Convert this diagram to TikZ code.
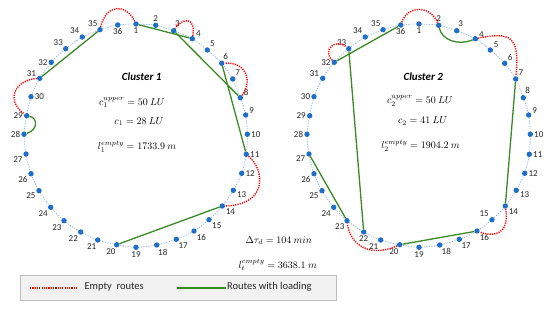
\documentclass[tikz,border=0pt]{standalone}
\usepackage{fontspec}
\setmainfont{Carlito}
\usepackage{amsmath}
\usepackage{xcolor}
\usetikzlibrary{calc,backgrounds}
\definecolor{dotblue}{HTML}{1F6FC6}
\definecolor{ringblue}{HTML}{8EB4E3}
\definecolor{emptyred}{HTML}{FF0000}
\definecolor{loadgreen}{HTML}{3B8A25}
\definecolor{numgray}{HTML}{262626}
\definecolor{legendfill}{HTML}{F2F2F2}
\definecolor{legenddraw}{HTML}{BFBFBF}

\begin{document}
\begin{tikzpicture}[x=1pt,y=-1pt,
  stop/.style={circle,fill=dotblue,inner sep=0pt,minimum size=5.4pt},
  numlbl/.style={text=numgray,font=\fontsize{9}{9}\selectfont,inner sep=0.8pt},
  ring/.style={ringblue,line width=0.7pt,dash pattern=on 1.3pt off 1.3pt},
  emptyroute/.style={emptyred,line width=1.4pt,dash pattern=on 1.2pt off 1.1pt},
  loadroute/.style={loadgreen,line width=1.3pt},
  mathtxt/.style={font=\fontsize{10}{12}\selectfont}]
  \useasboundingbox (0,0) rectangle (550,309);

  % stop positions of one cluster
  \foreach \i/\x/\y in {1/136/24, 2/155.7/25.3, 3/173.7/30.7, 4/192.3/38.7, 5/207.3/50,
      6/221.7/63.3, 7/232.7/79, 8/240.3/97.7, 9/245.7/115, 10/247.3/134.3, 11/246.3/154.3,
      12/241.7/173.3, 13/233.3/190.3, 14/222.3/206, 15/209/219.7, 16/194/231, 17/176.3/239.3,
      18/156.7/245, 19/136/247.3, 20/116.7/244.7, 21/97.7/240, 22/80.7/232, 23/64/220.7,
      24/50.7/207.3, 25/39/190.7, 26/31/173.7, 27/26/154, 28/24/134.3, 29/26.7/115.7,
      30/31/96.7, 31/39.7/78.3, 32/51.3/62.3, 33/65.7/48.7, 34/82.3/37, 35/100/29.7, 36/117.7/25}
    \coordinate (p\i) at (\x,\y);

  % Cluster 1
  \foreach \i/\a in {1/-90, 2/90, 3/80, 4/20, 5/50, 6/75, 7/55, 8/25, 9/20, 10/0, 11/0, 12/0,
      13/-10, 14/-30, 15/-40, 16/-50, 17/-65, 18/-80, 19/-90, 20/-95, 21/-100, 22/-130,
      23/-120, 24/-135, 25/-150, 26/-150, 27/-150, 28/180, 29/180, 30/0, 31/160, 32/180,
      33/130, 34/135, 35/125, 36/-90}
    \node[stop,label={[numlbl]\a:\i}] (a\i) at (p\i) {};

  % Cluster 2
  \foreach \i/\a in {1/-90, 2/90, 3/75, 4/10, 5/30, 6/45, 7/50, 8/70, 9/20, 10/0, 11/0, 12/0,
      13/-10, 14/-30, 15/140, 16/-50, 17/-65, 18/-70, 19/-90, 20/-95, 21/-120, 22/-90,
      23/-125, 24/-135, 25/-150, 26/-150, 27/-160, 28/180, 29/180, 30/180, 31/165, 32/180,
      33/120, 34/135, 35/125, 36/-90}
    \node[stop,label={[numlbl]\a:\i}] (b\i) at ($(p\i)+(283,0)$) {};

  \begin{scope}[on background layer]
    \fill[white] (0,0) rectangle (550,309);
    \draw[ring] plot[smooth cycle,samples at={1,...,36},variable=\k] (a\k.center);
    \draw[ring] plot[smooth cycle,samples at={1,...,36},variable=\k] (b\k.center);
  \end{scope}

  % routes, cluster 1
  \draw[emptyroute] (a35) .. controls (106,4) and (126,3) .. (a1);
  \draw[loadroute] (a1) -- (a4);
  \draw[emptyroute] (a4) .. controls (196,16) and (182,18) .. (a3);
  \draw[loadroute] (a3) -- (a8);
  \draw[emptyroute] (a8) .. controls (252,82) and (248,62) .. (a6);
  \draw[loadroute] (a6) -- (a11);
  \draw[emptyroute] (a11) .. controls (265,170) and (268,205) .. (a14);
  \draw[loadroute] (a14) -- (a20);
  \draw[loadroute] (a35) -- (a31);
  \draw[emptyroute] (a31) .. controls (15,80) and (5,100) .. (a29);
  \draw[loadroute] (a29) .. controls (38,118) and (38,130) .. (a28);

  % routes, cluster 2
  \draw[emptyroute] (b36) .. controls (408,5) and (430,5) .. (b2);
  \draw[loadroute] (b2) .. controls (442,40) and (458,46) .. (b4);
  \draw[emptyroute] (b4) .. controls (510,32) and (520,35) .. (b7);
  \draw[loadroute] (b7) -- (b14);
  \draw[emptyroute] (b14) .. controls (510,238) and (490,236) .. (b16);
  \draw[loadroute] (b16) -- (b20);
  \draw[emptyroute] (b20) .. controls (370,258) and (350,245) .. (b23);
  \draw[loadroute] (b23) -- (b27);
  \draw[loadroute] (b36) -- (b32);
  \draw[emptyroute] (b32) .. controls (322,50) and (335,38) .. (b33);
  \draw[loadroute] (b33) -- (b22);

  % cluster figures
  \node[font=\bfseries\itshape\fontsize{11}{13}\selectfont] (title1) at (141.7,76.7) {Cluster 1};
  \node[mathtxt] (cap1) at (132,102.7) {$c_1^{upper}=50\ LU$};
  \node[mathtxt] (load1) at (139,121.7) {$c_1=28\ LU$};
  \node[mathtxt] (len1) at (137,146.7) {$l_1^{empty}=1733.9\ m$};
  \node[font=\bfseries\itshape\fontsize{11}{13}\selectfont] (title2) at (423.3,77) {Cluster 2};
  \node[mathtxt] (cap2) at (420,101) {$c_2^{upper}=50\ LU$};
  \node[mathtxt] (load2) at (422.7,121) {$c_2=41\ LU$};
  \node[mathtxt] (len2) at (420.5,145.7) {$l_2^{empty}=1904.2\ m$};
  \node[mathtxt] (dtau) at (278.7,240.7) {$\Delta\tau_d=104\ min$};
  \node[mathtxt] (lent) at (277.7,265) {$l_t^{empty}=3638.1\ m$};

  % legend
  \node[draw=legenddraw,fill=legendfill,line width=0.8pt,minimum width=316.7pt,minimum height=25pt,inner sep=0pt] (legend) at (178.3,287.5) {};
  \coordinate (redA) at (30,288);
  \coordinate (redB) at (78,288);
  \draw[emptyroute,line width=1.6pt] (redA) -- (redB);
  \node[anchor=west,font=\fontsize{10.5}{12}\selectfont,text=numgray] (lgempty) at (81,287.2) {Empty\ \ routes};
  \coordinate (greenA) at (176.7,288);
  \coordinate (greenB) at (226,288);
  \draw[loadroute,line width=1.6pt] (greenA) -- (greenB);
  \node[anchor=west,font=\fontsize{10.5}{12}\selectfont,text=numgray,inner sep=1pt] (lgload) at (226,287.2) {Routes with loading};
\end{tikzpicture}
\end{document}
